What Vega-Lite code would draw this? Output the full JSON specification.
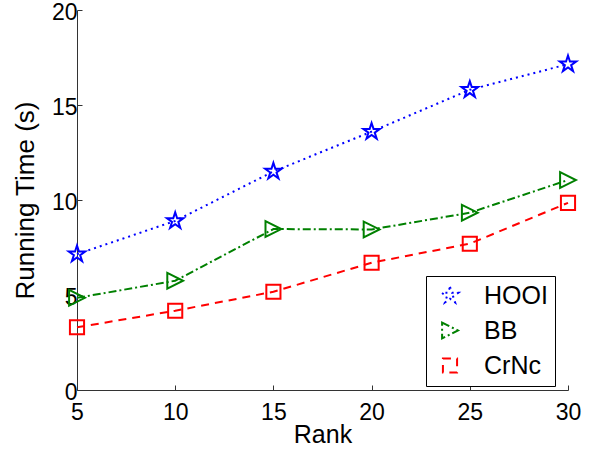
{
  "$schema": "https://vega.github.io/schema/vega-lite/v6.json",
  "width": 491,
  "height": 380,
  "autosize": "none",
  "padding": {"left": 77, "top": 10, "right": 32, "bottom": 63},
  "background": "white",
  "config": {
    "font": "Liberation Sans",
    "view": {"stroke": null},
    "axis": {
      "grid": false,
      "domainColor": "#333333",
      "tickColor": "#333333",
      "domainWidth": 1,
      "tickWidth": 1,
      "tickSize": -5,
      "labelFont": "Liberation Sans",
      "labelFontSize": 23,
      "labelColor": "black",
      "titleFont": "Liberation Sans",
      "titleFontSize": 25,
      "titleFontWeight": "normal",
      "titleColor": "black"
    }
  },
  "data": {
    "values": [
      {"rank": 5, "time": 7.15, "method": "HOOI", "series": "HOOI"},
      {"rank": 10, "time": 8.9, "method": "HOOI", "series": "HOOI"},
      {"rank": 15, "time": 11.5, "method": "HOOI", "series": "HOOI"},
      {"rank": 20, "time": 13.6, "method": "HOOI", "series": "HOOI"},
      {"rank": 25, "time": 15.8, "method": "HOOI", "series": "HOOI"},
      {"rank": 30, "time": 17.15, "method": "HOOI", "series": "HOOI"},
      {"rank": 5, "time": 4.85, "method": "BB", "series": "BB"},
      {"rank": 10, "time": 5.75, "method": "BB", "series": "BB"},
      {"rank": 15, "time": 8.47, "method": "BB", "series": "BB"},
      {"rank": 20, "time": 8.45, "method": "BB", "series": "BB"},
      {"rank": 25, "time": 9.33, "method": "BB", "series": "BB"},
      {"rank": 30, "time": 11.05, "method": "BB", "series": "BB"},
      {"rank": 5, "time": 3.3, "method": "CrNc", "series": "CrNc"},
      {"rank": 10, "time": 4.17, "method": "CrNc", "series": "CrNc"},
      {"rank": 15, "time": 5.17, "method": "CrNc", "series": "CrNc"},
      {"rank": 20, "time": 6.7, "method": "CrNc", "series": "CrNc"},
      {"rank": 25, "time": 7.7, "method": "CrNc", "series": "CrNc"},
      {"rank": 30, "time": 9.85, "method": "CrNc", "series": "CrNc"}
    ]
  },
  "encoding": {
    "x": {
      "field": "rank",
      "type": "quantitative",
      "scale": {"domain": [5, 30], "nice": false, "zero": false},
      "axis": {"values": [5, 10, 15, 20, 25, 30], "title": "Rank", "labelPadding": 16, "titlePadding": -2, "labelFlush": false, "labelOverlap": false}
    },
    "y": {
      "field": "time",
      "type": "quantitative",
      "scale": {"domain": [0, 20], "nice": false},
      "axis": {"values": [0, 5, 10, 15, 20], "title": "Running Time (s)", "titleFontSize": 26, "labelPadding": 5, "labelOffset": 2, "titlePadding": 13, "labelFlush": false, "labelOverlap": false}
    },
    "color": {
      "field": "method",
      "type": "nominal",
      "scale": {"domain": ["HOOI", "BB", "CrNc"], "range": ["#0000ff", "#008000", "#ff0000"]},
      "legend": {
        "title": null,
        "orient": "none",
        "legendX": 349,
        "legendY": 266,
        "direction": "vertical",
        "strokeColor": "black",
        "fillColor": "white",
        "padding": 7,
        "cornerRadius": 0,
        "labelFont": "Liberation Sans",
        "labelFontSize": 25,
        "labelColor": "black",
        "labelOffset": 26,
        "rowPadding": 9,
        "symbolSize": 144,
        "symbolStrokeWidth": 2,
        "symbolFillColor": "transparent",
        "symbolDash": [],
        "encoding": {
          "symbols": {
            "shape": {"expr": "datum.value === 'HOOI' ? 'M-2.75,0L-2.45,0M-2.05,0L-1.75,0M-1.35,0L-1.05,0M1.05,0L1.35,0M1.75,0L2.05,0M2.45,0L2.75,0M-0.15,0L0.15,0M0,-1L0.225,-0.309L0.951,-0.309L0.363,0.118L0.588,0.809L0,0.382L-0.588,0.809L-0.363,0.118L-0.951,-0.309L-0.225,-0.309Z' : datum.value === 'BB' ? 'M-2.75,0L-2.15,0M-1.75,0L-1.55,0M-1.1,0L1.1,0M1.4,0L1.6,0M2,0L2.75,0M-1,-1L1,0L-1,1Z' : 'M-2.75,0L-1.75,0M-0.8,-0.8L0.8,-0.8L0.8,0.8L-0.8,0.8ZM-0.5,0L0.5,0M1.75,0L2.75,0'"},
            "x": {"value": 17},
            "fill": {"value": "transparent"}
          }
        }
      }
    }
  },
  "layer": [
    {
      "mark": {"type": "line", "strokeWidth": 2},
      "encoding": {
        "strokeDash": {
          "field": "series",
          "type": "nominal",
          "scale": {"domain": ["HOOI", "BB", "CrNc"], "range": [[2, 4], [8, 3, 2, 3], [8, 6]]},
          "legend": null
        }
      }
    },
    {
      "mark": {"type": "point", "filled": false, "strokeWidth": 2, "opacity": 1},
      "encoding": {
        "shape": {
          "field": "series",
          "type": "nominal",
          "scale": {"domain": ["HOOI", "BB", "CrNc"], "range": ["M0,-1L0.225,-0.309L0.951,-0.309L0.363,0.118L0.588,0.809L0,0.382L-0.588,0.809L-0.363,0.118L-0.951,-0.309L-0.225,-0.309Z", "M-1,-1L1,0L-1,1Z", "square"]},
          "legend": null
        },
        "size": {
          "field": "series",
          "type": "nominal",
          "scale": {"domain": ["HOOI", "BB", "CrNc"], "range": [300, 200, 130]},
          "legend": null
        }
      }
    }
  ]
}
